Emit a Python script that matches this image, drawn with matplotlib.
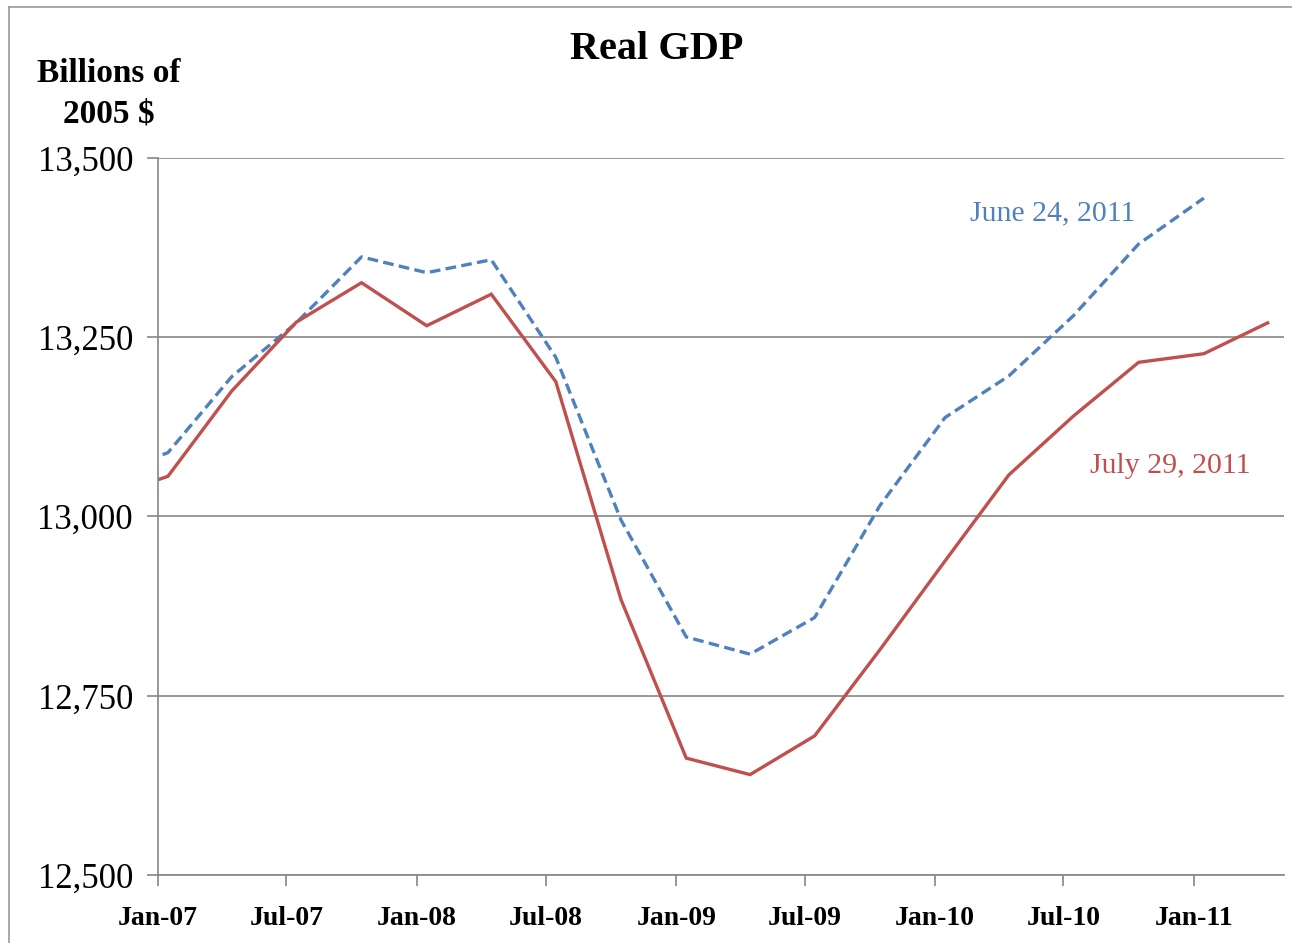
import pandas as pd
import matplotlib
matplotlib.use('Agg')
import matplotlib.pyplot as plt
import matplotlib.dates as mdates
from matplotlib.ticker import FuncFormatter
from matplotlib.lines import Line2D

# Данные: реальный ВВП, млрд долл. 2005 г., поквартально
dates = ['2006-10-15',
         '2007-01-15', '2007-04-15', '2007-07-15', '2007-10-15',
         '2008-01-15', '2008-04-15', '2008-07-15', '2008-10-15',
         '2009-01-15', '2009-04-15', '2009-07-15', '2009-10-15',
         '2010-01-15', '2010-04-15', '2010-07-15', '2010-10-15',
         '2011-01-15', '2011-04-15']
june_2011 = [13055, 13089, 13195, 13270, 13362, 13340, 13358, 13222, 12995,
             12832, 12808, 12859, 13015, 13138, 13196, 13280, 13380, 13444]
july_2011 = [13025, 13056, 13175, 13271, 13326, 13266, 13310, 13188, 12884,
             12663, 12640, 12694, 12814, 12938, 13058, 13140, 13215, 13227, 13270]
y_ticks = [12500, 12750, 13000, 13250, 13500]

x = pd.to_datetime(dates)

blue = '#4F81BD'
red = '#C0504D'
grid_c = '#868686'

plt.rcParams['font.family'] = ['Liberation Serif', 'DejaVu Serif']

fig = plt.figure(figsize=(12.92, 9.43), dpi=100)
ax = fig.add_axes([0.1223, 0.0721, 0.8715, 0.7604])

ax.plot(x[:len(june_2011)], june_2011, color=blue, lw=2.4,
        dashes=(3.2, 1.6), dash_capstyle='butt')
ax.plot(x, july_2011, color=red, lw=2.4, solid_joinstyle='miter')

ax.set_xlim(pd.Timestamp('2007-01-01'), pd.Timestamp('2011-05-08'))
ax.set_ylim(12500, 13500)
ax.set_yticks(y_ticks)
ax.yaxis.set_major_formatter(FuncFormatter(lambda v, p: f'{int(v):,}'))
ax.xaxis.set_major_locator(mdates.MonthLocator(bymonth=[1, 7]))
ax.xaxis.set_major_formatter(mdates.DateFormatter('%b-%y'))

ax.grid(axis='y', color=grid_c, lw=1.2)
ax.set_axisbelow(True)
for s in ['top', 'right']:
    ax.spines[s].set_visible(False)
for s in ['left', 'bottom']:
    ax.spines[s].set_color(grid_c)
    ax.spines[s].set_linewidth(1.2)

ax.tick_params(axis='y', direction='out', length=8, width=1.2, color=grid_c,
               labelsize=25, pad=10)
ax.tick_params(axis='x', direction='out', length=8, width=1.2, color=grid_c,
               labelsize=20, pad=14)
for lbl in ax.get_xticklabels():
    lbl.set_fontweight('bold')

# Подписи серий
ax.text(pd.Timestamp('2010-02-19'), 13423, 'June 24, 2011', color=blue,
        fontsize=21.5, va='center', ha='left')
ax.text(pd.Timestamp('2010-08-07'), 13071, 'July 29, 2011', color=red,
        fontsize=21.5, va='center', ha='left')

# Заголовок и подпись оси
fig.text(0.5085, 0.948, 'Real GDP', fontsize=29, fontweight='bold',
         ha='center', va='center')
fig.text(0.084, 0.901, 'Billions of\n2005 $', fontsize=24, fontweight='bold',
         ha='center', va='center', linespacing=1.4)

# Рамка рисунка
fig.add_artist(Line2D([9 / 1292, 9 / 1292], [0, 1 - 7 / 943], color='#9a9a9a',
                      lw=1.2, transform=fig.transFigure))
fig.add_artist(Line2D([9 / 1292, 1], [1 - 7 / 943, 1 - 7 / 943], color='#9a9a9a',
                      lw=1.2, transform=fig.transFigure))

fig.savefig('out.png', dpi=100)
